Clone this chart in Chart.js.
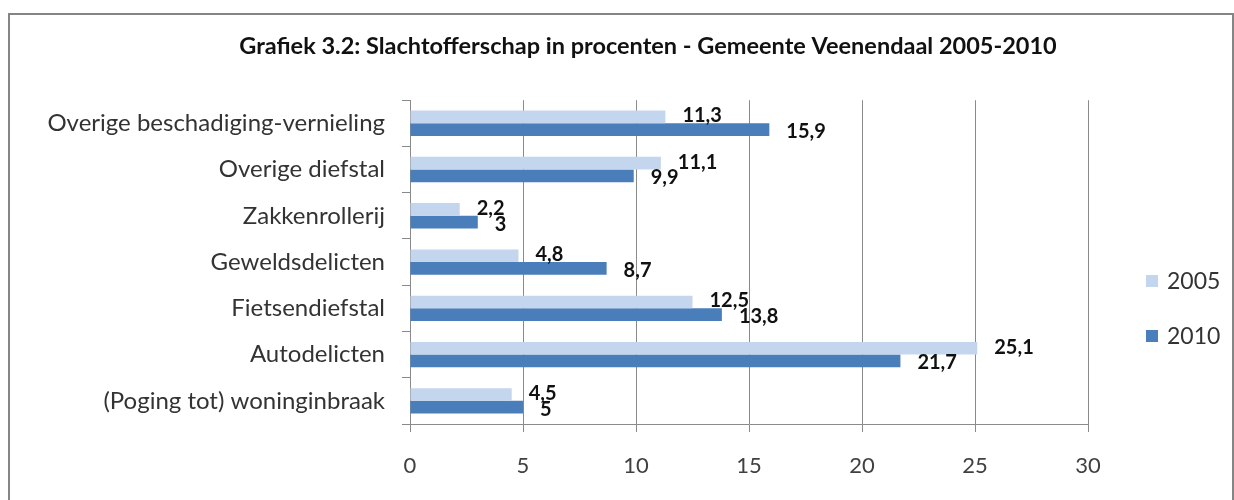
<!DOCTYPE html>
<html>
<head>
<meta charset="utf-8">
<script src="https://cdn.jsdelivr.net/npm/chart.js@4.4.1/dist/chart.umd.min.js"></script>
<style>
  html, body { margin: 0; padding: 0; background: #fff; }
  #kader {
    position: absolute; left: 8px; top: 13px; width: 1222px; height: 600px;
    border: 2px solid #858585; border-bottom: none;
  }
  #wrap { position: absolute; left: 0; top: 0; width: 1234px; height: 500px; }
</style>
</head>
<body>
<div id="kader"></div>
<div id="wrap"><canvas id="grafiek" width="1234" height="500"></canvas></div>
<script>
// =====================================
// DATA
// =====================================

const categorieen = [
    "Overige beschadiging-vernieling",
    "Overige diefstal",
    "Zakkenrollerij",
    "Geweldsdelicten",
    "Fietsendiefstal",
    "Autodelicten",
    "(Poging tot) woninginbraak"
];
const reeksen = ["2005", "2010"];
const waarden2005 = [11.3, 11.1, 2.2, 4.8, 12.5, 25.1, 4.5];
const waarden2010 = [15.9, 9.9, 3, 8.7, 13.8, 21.7, 5];
const asTicks = [0, 5, 10, 15, 20, 25, 30];

const LETTER = "Lato, 'Noto Sans', sans-serif";

function komma(v) {
    return String(v).replace(".", ",");
}

// =====================================
// PLUGINS
// =====================================

// titel iets naar rechts, zoals in het origineel
const titelPositie = {
    id: "titelPositie",
    afterLayout(chart) {
        if (chart.titleBlock) {
            chart.titleBlock.left = 62;
            chart.titleBlock.right = 1234;
        }
    }
};

const waardeLabels = {
    id: "waardeLabels",
    afterDatasetsDraw(chart) {
        const ctx = chart.ctx;
        ctx.save();
        ctx.font = "bold 20px " + LETTER;
        ctx.fillStyle = "#111";
        ctx.textAlign = "left";
        ctx.textBaseline = "middle";
        chart.data.datasets.forEach((ds, i) => {
            chart.getDatasetMeta(i).data.forEach((bar, j) => {
                ctx.fillText(komma(ds.data[j]), bar.x + 17, bar.y + (i === 0 ? -1 : 2));
            });
        });
        ctx.restore();
    }
};

const legendaRechts = {
    id: "legendaRechts",
    afterDraw(chart) {
        const ctx = chart.ctx;
        ctx.save();
        ctx.font = "23px " + LETTER;
        ctx.textBaseline = "middle";
        ctx.textAlign = "left";
        chart.data.datasets.forEach((ds, i) => {
            const y = 281 + i * 55;
            ctx.fillStyle = ds.backgroundColor;
            ctx.fillRect(1146, y - 6, 12, 12);
            ctx.fillStyle = "#333";
            ctx.fillText(ds.label, 1167, y + 1);
        });
        ctx.restore();
    }
};

// =====================================
// GRAFIEK
// =====================================

new Chart(document.getElementById("grafiek"), {
    type: "bar",
    data: {
        labels: categorieen,
        datasets: [{
            label: reeksen[0],
            data: waarden2005,
            backgroundColor: "#C4D6EE",
            categoryPercentage: 0.55,
            barPercentage: 1
        }, {
            label: reeksen[1],
            data: waarden2010,
            backgroundColor: "#4A7EBB",
            categoryPercentage: 0.55,
            barPercentage: 1
        }]
    },
    options: {
        indexAxis: "y",
        responsive: false,
        animation: false,
        layout: { padding: { left: 20, right: 146, top: 0, bottom: 0 } },
        plugins: {
            legend: { display: false },
            tooltip: { enabled: false },
            title: {
                display: true,
                text: "Grafiek 3.2: Slachtofferschap in procenten - Gemeente Veenendaal 2005-2010",
                color: "#111",
                font: { family: LETTER, size: 23.5, weight: "bold" },
                padding: { top: 32, bottom: 40 }
            }
        },
        scales: {
            x: {
                min: asTicks[0],
                max: asTicks[asTicks.length - 1],
                afterBuildTicks: s => { s.ticks = asTicks.map(v => ({ value: v })); },
                afterFit: s => { s.height = 76; },
                ticks: {
                    color: "#404040",
                    padding: 21,
                    font: { family: LETTER, size: 22 }
                },
                grid: { color: "#8a8a8a", tickLength: 8, lineWidth: 1 },
                border: { color: "#8a8a8a" }
            },
            y: {
                afterFit: s => { s.width = 410 - 20; },
                ticks: {
                    color: "#333",
                    padding: 17,
                    font: { family: LETTER, size: 24 }
                },
                grid: { drawOnChartArea: false, drawTicks: true, tickLength: 8, color: "#8a8a8a" },
                border: { color: "#8a8a8a" }
            }
        }
    },
    plugins: [titelPositie, waardeLabels, legendaRechts]
});
</script>
</body>
</html>
